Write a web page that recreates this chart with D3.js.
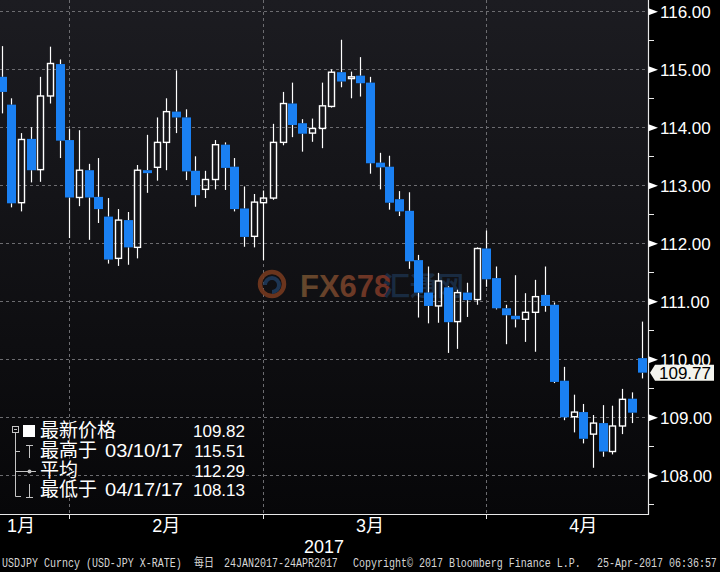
<!DOCTYPE html>
<html><head><meta charset="utf-8">
<script src="https://cdn.jsdelivr.net/npm/d3@7"></script>
<style>html,body{margin:0;padding:0;background:#000;} svg{display:block;}</style>
</head><body>
<svg id="chart" width="720" height="572"></svg>
<script>
// ---------- data ----------
const dates = [
 "2017-01-20","2017-01-23","2017-01-24","2017-01-25","2017-01-26","2017-01-27","2017-01-30","2017-01-31",
 "2017-02-01","2017-02-02","2017-02-03","2017-02-06","2017-02-07","2017-02-08","2017-02-09","2017-02-10",
 "2017-02-13","2017-02-14","2017-02-15","2017-02-16","2017-02-17","2017-02-20","2017-02-21","2017-02-22",
 "2017-02-23","2017-02-24","2017-02-27","2017-02-28",
 "2017-03-01","2017-03-02","2017-03-03","2017-03-06","2017-03-07","2017-03-08","2017-03-09","2017-03-10",
 "2017-03-13","2017-03-14","2017-03-15","2017-03-16","2017-03-17","2017-03-20","2017-03-21","2017-03-22",
 "2017-03-23","2017-03-24","2017-03-27","2017-03-28","2017-03-29","2017-03-30","2017-03-31",
 "2017-04-03","2017-04-04","2017-04-05","2017-04-06","2017-04-07","2017-04-10","2017-04-11","2017-04-12",
 "2017-04-13","2017-04-14","2017-04-17","2017-04-18","2017-04-19","2017-04-20","2017-04-21","2017-04-24"
];
const openP = [
 114.87,114.39,112.70,113.80,113.27,114.54,115.09,113.78,
 112.79,113.26,112.80,112.46,111.74,112.40,111.93,113.26,
 113.31,113.74,114.27,114.17,113.25,112.93,113.10,113.70,
 113.32,112.60,112.12,112.70,
 112.78,113.74,114.41,114.07,113.90,113.98,114.36,114.95,
 114.84,114.89,114.77,113.39,113.32,112.76,112.56,111.71,
 111.15,110.92,111.24,110.65,111.15,111.03,111.91,
 111.40,110.88,110.75,110.69,110.81,111.11,110.94,109.63,
 109.01,109.09,108.71,108.90,108.41,108.85,109.32,110.02
];
const highP = [
 115.40,114.50,113.90,114.00,114.87,115.39,115.17,113.97,
 113.95,113.37,113.47,112.78,112.59,112.54,113.35,113.87,
 114.17,114.50,114.98,114.31,113.50,113.25,113.78,113.74,
 113.47,112.98,112.85,112.91,
 114.06,114.61,114.77,114.14,114.15,114.77,115.00,115.51,
 114.96,115.21,114.87,113.56,113.51,112.90,112.88,111.80,
 111.60,111.49,111.26,111.20,111.32,111.93,112.22,
 111.60,110.94,111.45,111.14,111.37,111.60,110.98,109.87,
 109.39,109.23,109.04,109.21,109.20,109.49,109.43,110.65
];
const lowP = [
 114.24,112.62,112.55,113.05,113.06,114.41,113.47,112.09,
 112.64,112.06,112.35,111.65,111.61,111.63,111.74,112.87,
 113.08,113.26,113.90,113.09,112.63,112.78,112.93,112.92,
 112.55,111.94,111.93,111.71,
 112.75,113.69,113.83,113.58,113.75,113.64,114.34,114.69,
 114.50,114.53,113.20,112.93,112.58,112.47,111.56,110.72,
 110.62,110.63,110.11,110.18,110.73,110.94,111.25,
 110.86,110.26,110.55,110.30,110.13,110.82,109.59,108.95,
 108.74,108.55,108.13,108.32,108.36,108.71,108.90,109.67
];
const closeP = [
 114.61,112.69,113.79,113.26,114.54,115.10,113.77,112.79,
 113.26,112.79,112.59,111.72,112.40,111.93,113.26,113.21,
 113.74,114.27,114.17,113.24,112.83,113.10,113.70,113.30,
 112.59,112.11,112.71,112.78,
 113.74,114.41,114.04,113.89,113.98,114.37,114.95,114.79,
 114.87,114.76,113.38,113.31,112.70,112.55,111.69,111.15,
 110.92,111.35,110.64,111.15,111.02,111.91,111.38,
 110.88,110.76,110.69,110.81,111.08,110.92,109.61,109.00,
 109.09,108.63,108.90,108.41,108.85,109.31,109.08,109.77
];
const yTicks = [108,109,110,111,112,113,114,115,116];
const yMinorTicks = [107.5,108.5,109.5,110.5,111.5,112.5,113.5,114.5,115.5];
const monthEnds = ["2017-01-31","2017-02-28","2017-03-31"];
const monthLabels = ["1月","2月","3月","4月"];
const monthLabelDates = ["2017-01-24","2017-02-14","2017-03-15","2017-04-14"];
const yearLabel = "2017";
const lastPrice = 109.77;
const legendLabels = ["最新价格","最高于","平均","最低于"];
const legendDates = ["","03/10/17","","04/17/17"];
const legendValues = ["109.82","115.51","112.29","108.13"];
const footerParts = ["USDJPY Curncy (USD-JPY X-RATE)","每日","24JAN2017-24APR2017","Copyright© 2017 Bloomberg Finance L.P.","25-Apr-2017 06:36:57"];

// ---------- layout ----------
const W = 720, H = 572, plotR = 648, plotB = 514;
const FONT = "'Liberation Sans', Arial, 'Noto Sans CJK SC', sans-serif";
const CJK = "'Noto Sans CJK SC', sans-serif";
const BLUE = "#1a80f2";
const svg = d3.select("#chart");
const defs = svg.append("defs");
const grad = defs.append("linearGradient").attr("id","bg").attr("x1",0).attr("y1",0).attr("x2",0).attr("y2",1);
grad.append("stop").attr("offset","0%").attr("stop-color","#1c1c21");
grad.append("stop").attr("offset","100%").attr("stop-color","#070709");
const wmg = defs.append("linearGradient").attr("id","wmg").attr("x1",0).attr("y1",0).attr("x2",1).attr("y2",0);
wmg.append("stop").attr("offset","0%").attr("stop-color","#6e5030");
wmg.append("stop").attr("offset","100%").attr("stop-color","#7c3224");
defs.append("clipPath").attr("id","clip").append("rect").attr("x",0).attr("y",0).attr("width",plotR).attr("height",plotB);

svg.append("rect").attr("width",W).attr("height",H).attr("fill","#000");
svg.append("rect").attr("x",0).attr("y",0).attr("width",plotR).attr("height",plotB).attr("fill","url(#bg)");

const x = d3.scalePoint().domain(dates).range([1.5, 641.5]);
const y = d3.scaleLinear().domain([108,116]).range([475.3, 11.3]);
const px = v => Math.round(v) + 0.5;

const parse = d3.timeParse("%Y-%m-%d");
function dateX(s){
  const t = parse(s);
  const i = d3.bisector(d => parse(d)).right(dates, t) - 1;
  if (i < 0) return x(dates[0]);
  if (i >= dates.length-1) return x(dates[dates.length-1]);
  const a = parse(dates[i]), b = parse(dates[i+1]);
  return x(dates[i]) + (x(dates[i+1]) - x(dates[i])) * (t - a) / (b - a);
}

const plot = svg.append("g").attr("clip-path","url(#clip)");

// grid
plot.selectAll(".hg").data(yTicks).join("line")
  .attr("x1",0).attr("x2",plotR).attr("y1",d=>px(y(d))).attr("y2",d=>px(y(d)))
  .attr("stroke","#6c6c70").attr("stroke-width",1).attr("stroke-dasharray","3,3");
plot.selectAll(".vg").data(monthEnds).join("line")
  .attr("x1",d=>px(x(d))).attr("x2",d=>px(x(d))).attr("y1",0).attr("y2",plotB)
  .attr("stroke","#6c6c70").attr("stroke-width",1).attr("stroke-dasharray","3,3");

// watermark
const wm = plot.append("g").attr("opacity",0.9);
wm.append("circle").attr("cx",272).attr("cy",284).attr("r",12).attr("fill","none").attr("stroke","#74391f").attr("stroke-width",4.5);
wm.append("path").attr("d","M265,285 a7,7 0 1,1 7,7").attr("fill","none").attr("stroke","#1f3a5a").attr("stroke-width",4);
wm.append("text").attr("x",300).attr("y",297).attr("font-family",FONT).attr("font-weight","bold").attr("font-size",31)
  .attr("fill","url(#wmg)").text("FX678");
wm.append("text").attr("x",383).attr("y",296).attr("font-family",CJK).attr("font-weight","bold").attr("font-size",27)
  .attr("fill","#1b2e46").text("汇通网");

// candles
const candles = dates.map((d,i)=>({d, o:openP[i], h:highP[i], l:lowP[i], c:closeP[i]}));
const cg = plot.append("g");
candles.forEach(k=>{
  const cx = px(x(k.d));
  const up = k.c >= k.o;
  const top = y(Math.max(k.o,k.c)), bot = y(Math.min(k.o,k.c));
  cg.append("line").attr("x1",cx).attr("x2",cx).attr("y1",y(k.h)).attr("y2",top).attr("stroke","#fff").attr("stroke-width",1.2);
  cg.append("line").attr("x1",cx).attr("x2",cx).attr("y1",bot).attr("y2",y(k.l)).attr("stroke","#fff").attr("stroke-width",1.2);
  if (up) {
    cg.append("rect").attr("x",cx-3).attr("y",top).attr("width",6).attr("height",Math.max(bot-top,1.5))
      .attr("fill","none").attr("stroke","#fff").attr("stroke-width",1.4);
  } else {
    cg.append("rect").attr("x",cx-4.5).attr("y",top).attr("width",9).attr("height",Math.max(bot-top,2))
      .attr("fill",BLUE);
  }
});

// axes lines
svg.append("line").attr("x1",plotR+0.5).attr("x2",plotR+0.5).attr("y1",0).attr("y2",plotB+1).attr("stroke","#e8e8e8").attr("stroke-width",1.2);
svg.append("line").attr("x1",0).attr("x2",plotR+1).attr("y1",plotB+0.5).attr("y2",plotB+0.5).attr("stroke","#e8e8e8").attr("stroke-width",1.2);
svg.selectAll(".mt").data(monthEnds).join("line")
  .attr("x1",d=>px(x(d))).attr("x2",d=>px(x(d))).attr("y1",plotB).attr("y2",plotB+5).attr("stroke","#e8e8e8");

// right axis
const yAxis = d3.axisRight(y).tickValues(yTicks).tickSize(0).tickPadding(12).tickFormat(d3.format(".2f"));
const ya = svg.append("g").attr("transform",`translate(${plotR},0)`).call(yAxis);
ya.select(".domain").remove();
ya.selectAll("text").attr("font-family",FONT).attr("font-size",17).attr("fill","#fff").attr("dy","0.36em");
ya.selectAll(".tick").append("path").attr("d","M0.5,-3.5 L10,0 L0.5,3.5 Z").attr("fill","#fff");
svg.selectAll(".ymt").data(yMinorTicks).join("line")
  .attr("x1",plotR).attr("x2",plotR+6).attr("y1",d=>px(y(d))).attr("y2",d=>px(y(d))).attr("stroke","#e8e8e8");

// last price tag
const ly = y(lastPrice);
svg.append("path").attr("d",`M650,${ly} L655,${ly-8} L714,${ly-8} L714,${ly+8} L655,${ly+8} Z`).attr("fill","#f4f4ee");
svg.append("text").attr("x",659).attr("y",ly).attr("dy","0.36em").attr("font-family",FONT).attr("font-size",17)
  .attr("fill","#000").text(d3.format(".2f")(lastPrice));

// month labels + year
svg.selectAll(".ml").data(monthLabels).join("text")
  .attr("x",(d,i)=>dateX(monthLabelDates[i])).attr("y",532).attr("text-anchor","middle")
  .attr("font-family",FONT).attr("font-size",18).attr("fill","#fff").text(d=>d);
svg.append("text").attr("x",plotR/2).attr("y",553).attr("text-anchor","middle")
  .attr("font-family",FONT).attr("font-size",18).attr("fill","#fff").text(yearLabel);

// legend
const lg = svg.append("g");
const TC = "#c4c4c4";
const rowY = [437,457,477,496];
lg.append("rect").attr("x",12.5).attr("y",426.5).attr("width",6).attr("height",6).attr("fill","none").attr("stroke",TC);
lg.append("line").attr("x1",14).attr("x2",17).attr("y1",429.5).attr("y2",429.5).attr("stroke",TC);
lg.append("line").attr("x1",15.5).attr("x2",15.5).attr("y1",433).attr("y2",496.5).attr("stroke",TC);
lg.append("line").attr("x1",15.5).attr("x2",20).attr("y1",451.5).attr("y2",451.5).attr("stroke",TC);
lg.append("line").attr("x1",15.5).attr("x2",36).attr("y1",471.5).attr("y2",471.5).attr("stroke",TC);
lg.append("line").attr("x1",15.5).attr("x2",21).attr("y1",496.5).attr("y2",496.5).attr("stroke",TC);
lg.append("rect").attr("x",23).attr("y",425).attr("width",12).attr("height",12).attr("fill","#fff");
lg.append("line").attr("x1",26).attr("x2",33).attr("y1",445.5).attr("y2",445.5).attr("stroke",TC);
lg.append("line").attr("x1",29.5).attr("x2",29.5).attr("y1",445.5).attr("y2",458).attr("stroke",TC);
lg.append("circle").attr("cx",29.5).attr("cy",471.5).attr("r",2).attr("fill",TC);
lg.append("line").attr("x1",29.5).attr("x2",29.5).attr("y1",484).attr("y2",497).attr("stroke",TC);
lg.append("line").attr("x1",26).attr("x2",33).attr("y1",497.5).attr("y2",497.5).attr("stroke",TC);
lg.selectAll(".ll").data(legendLabels).join("text")
  .attr("x",40).attr("y",(d,i)=>rowY[i]).attr("font-family",CJK).attr("font-size",19)
  .attr("fill","#fff").text(d=>d);
lg.selectAll(".ld").data(legendDates.filter(d=>d)).join("text")
  .attr("x",105).attr("y",d=>rowY[legendDates.indexOf(d)]).attr("font-family",FONT).attr("font-size",18)
  .attr("textLength",78).attr("lengthAdjust","spacingAndGlyphs")
  .attr("fill","#fff").text(d=>d);
lg.selectAll(".lv").data(legendValues).join("text")
  .attr("x",245).attr("y",(d,i)=>rowY[i]).attr("text-anchor","end").attr("font-family",FONT).attr("font-size",17)
  .attr("fill","#fff").text(d=>d);

// footer
const fx = [2,194,224,353,597];
const fg = svg.append("g").attr("transform","translate(0,567) scale(1,1.2)");
fg.selectAll(".ft").data(footerParts).join("text")
  .attr("x",(d,i)=>fx[i]).attr("y",0)
  .attr("font-family",(d,i)=>i===1?CJK:"'Liberation Mono', monospace").attr("font-size",10)
  .attr("fill","#d6d6d6").text(d=>d);
</script>
</body></html>
